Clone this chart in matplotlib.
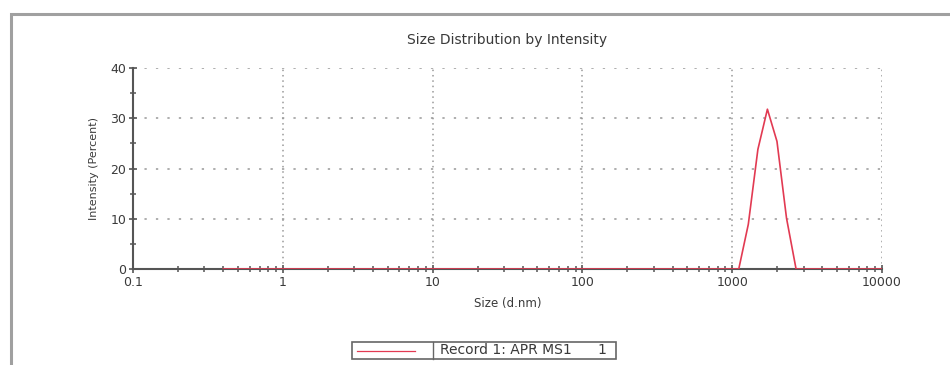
import matplotlib.pyplot as plt
from matplotlib.lines import Line2D
from matplotlib.patches import Rectangle
from matplotlib.ticker import LogLocator, FixedLocator, NullFormatter

plt.rcParams['font.family'] = ['DejaVu Sans']

# Zetasizer size classes (d.nm) and intensity (%)
sizes = [0.4, 0.4632, 0.5365, 0.6213, 0.7195, 0.8332, 0.9649, 1.117, 1.294,
         1.499, 1.736, 2.010, 2.328, 2.696, 3.122, 3.615, 4.187, 4.849,
         5.615, 6.503, 7.531, 8.721, 10.10, 11.70, 13.54, 15.69, 18.17,
         21.04, 24.36, 28.21, 32.67, 37.84, 43.82, 50.75, 58.77, 68.06,
         78.82, 91.28, 105.7, 122.4, 141.8, 164.2, 190.1, 220.2, 255.0,
         295.3, 342.0, 396.1, 458.7, 531.2, 615.1, 712.4, 825.0, 955.4,
         1106, 1281, 1484, 1718, 1990, 2305, 2669, 3091, 3580, 4145, 4801,
         5560, 6439, 7456, 8635, 10000]
peak = {1281: 8.9, 1484: 23.8, 1718: 31.8, 1990: 25.4, 2305: 10.1}
intensity = [peak.get(s, 0.0) for s in sizes]

x_ticks = [0.1, 1, 10, 100, 1000, 10000]
x_labels = ['0.1', '1', '10', '100', '1000', '10000']
y_ticks = [0, 10, 20, 30, 40]
record = 'Record 1: APR MS1      1'

txt = '#3a3a3a'
red = '#e23a52'
fig = plt.figure(figsize=(9.5, 3.65), dpi=100)
ax = fig.add_axes([133 / 950, 1 - 269 / 365, (882 - 133) / 950, (269 - 68) / 365])

ax.plot(sizes, intensity, color=red, lw=1.2, zorder=3)

ax.set_xscale('log')
ax.set_xlim(0.1, 10000)
ax.set_ylim(0, 40)
ax.set_xticks(x_ticks)
ax.set_xticklabels(x_labels)
ax.xaxis.set_minor_locator(LogLocator(base=10, subs=range(2, 10)))
ax.xaxis.set_minor_formatter(NullFormatter())
ax.set_yticks(y_ticks)
ax.yaxis.set_minor_locator(FixedLocator([5, 15, 25, 35]))

for side in ['top', 'right']:
    ax.spines[side].set_visible(False)
for side in ['left', 'bottom']:
    ax.spines[side].set_color('#555555')
    ax.spines[side].set_linewidth(1.5)
    ax.spines[side].set_zorder(2)

ax.tick_params(which='major', direction='inout', length=6, width=1.2,
               color='#555555', labelsize=9, labelcolor=txt, pad=2)
ax.tick_params(which='minor', direction='inout', length=4, width=1.1,
               color='#555555')

ax.grid(True, axis='y', which='major', color='#999999', lw=1.1,
        linestyle=(0, (1.5, 6)))
ax.grid(True, axis='x', which='major', color='#999999', lw=1.1,
        linestyle=(0, (1, 2.5)))

ax.set_title('Size Distribution by Intensity', fontsize=10, color=txt, pad=17)
ax.set_xlabel('Size (d.nm)', fontsize=8.5, color=txt, labelpad=6)
ax.set_ylabel('Intensity (Percent)', fontsize=8, color=txt, labelpad=8)

# outer gray frame
fig.add_artist(Rectangle((11 / 950, -0.2), 1.2, 0.2 + 1 - 14 / 365,
                         transform=fig.transFigure, fill=False,
                         edgecolor='#a0a0a0', lw=2.2, clip_on=False))

# legend box
x0, x1 = 352 / 950, 616 / 950
y0, y1 = 1 - 359 / 365, 1 - 342 / 365
box = Rectangle((x0, y0), x1 - x0, y1 - y0, transform=fig.transFigure,
                fill=False, edgecolor='#666666', lw=1.2)
fig.add_artist(box)
fig.add_artist(Line2D([433 / 950, 433 / 950], [y0, y1], transform=fig.transFigure,
                      color='#666666', lw=1.0))
fig.add_artist(Line2D([357 / 950, 415 / 950], [(y0 + y1) / 2] * 2,
                      transform=fig.transFigure, color=red, lw=0.9))
t = fig.text(440 / 950, (y0 + y1) / 2, record, fontsize=10, color=txt,
             va='center', ha='left')
t.set_clip_path(box)

fig.savefig('out.png', dpi=100, facecolor='white')
